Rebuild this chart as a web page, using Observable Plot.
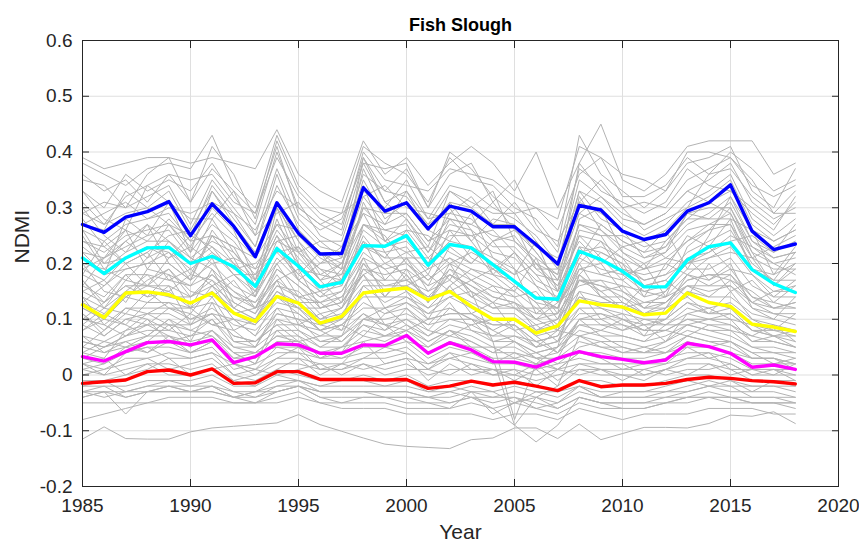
<!DOCTYPE html>
<html><head><meta charset="utf-8">
<script src="https://cdn.jsdelivr.net/npm/d3@7"></script>
<script src="https://cdn.jsdelivr.net/npm/@observablehq/plot@0.6"></script>
<style>body{margin:0;background:#fff} svg{display:block}</style>
</head><body><div id="chart"></div>
<script>
const years = [1985,1986,1987,1988,1989,1990,1991,1992,1993,1994,1995,1996,1997,1998,1999,2000,2001,2002,2003,2004,2005,2006,2007,2008,2009,2010,2011,2012,2013,2014,2015,2016,2017,2018];
const xTicks = [1985,1990,1995,2000,2005,2010,2015,2020];
const yTicks = [-0.2,-0.1,0,0.1,0.2,0.3,0.4,0.5,0.6];
const title = "Fish Slough";
const xLabel = "Year";
const yLabel = "NDMI";

// highlighted series
const blueSeries    = [0.270,0.256,0.283,0.293,0.311,0.250,0.307,0.267,0.212,0.309,0.254,0.217,0.218,0.336,0.294,0.309,0.262,0.303,0.294,0.266,0.266,0.234,0.199,0.304,0.296,0.258,0.243,0.252,0.294,0.309,0.341,0.258,0.225,0.235];
const cyanSeries    = [0.210,0.182,0.210,0.228,0.229,0.200,0.213,0.194,0.159,0.227,0.195,0.158,0.166,0.232,0.231,0.250,0.197,0.234,0.228,0.198,0.168,0.138,0.136,0.222,0.207,0.186,0.158,0.158,0.206,0.230,0.237,0.189,0.164,0.148];
const yellowSeries  = [0.126,0.103,0.147,0.149,0.144,0.129,0.147,0.111,0.096,0.141,0.129,0.093,0.105,0.147,0.152,0.156,0.135,0.150,0.123,0.100,0.100,0.075,0.088,0.133,0.126,0.122,0.108,0.111,0.147,0.130,0.123,0.091,0.086,0.078];
const magentaSeries = [0.033,0.025,0.042,0.058,0.060,0.054,0.063,0.022,0.033,0.056,0.054,0.039,0.039,0.054,0.053,0.071,0.039,0.058,0.045,0.024,0.023,0.014,0.030,0.042,0.033,0.028,0.022,0.027,0.057,0.051,0.039,0.014,0.018,0.010];
const redSeries     = [-0.015,-0.012,-0.009,0.006,0.009,0.000,0.011,-0.015,-0.014,0.006,0.006,-0.008,-0.008,-0.008,-0.009,-0.008,-0.024,-0.020,-0.011,-0.018,-0.013,-0.020,-0.028,-0.010,-0.021,-0.018,-0.018,-0.015,-0.008,-0.004,-0.006,-0.010,-0.012,-0.016];

// individual (gray) series
const g01 = [0.39,0.37,0.38,0.39,0.39,0.38,0.39,0.38,0.37,0.44,0.36,0.33,0.31,0.42,0.36,0.39,0.34,0.38,0.41,0.38,0.33,0.40,0.30,0.38,0.45,0.35,0.33,0.36,0.41,0.42,0.42,0.42,0.36,0.38];
const g02 = [0.38,0.36,0.34,0.37,0.38,0.37,0.43,0.34,0.30,0.43,0.34,0.30,0.29,0.41,0.38,0.36,0.31,0.39,0.35,0.34,0.30,0.28,0.23,0.43,0.36,0.33,0.30,0.33,0.38,0.39,0.41,0.33,0.30,0.37];
const g03 = [0.35,0.34,0.30,0.36,0.39,0.31,0.41,0.36,0.28,0.42,0.33,0.29,0.27,0.39,0.33,0.37,0.30,0.36,0.38,0.31,0.35,0.27,0.22,0.37,0.34,0.30,0.31,0.30,0.35,0.37,0.39,0.35,0.29,0.33];
const g04 = [0.33,0.30,0.36,0.33,0.35,0.33,0.38,0.32,0.27,0.40,0.30,0.27,0.25,0.38,0.31,0.33,0.28,0.34,0.33,0.30,0.28,0.25,0.20,0.35,0.32,0.29,0.27,0.29,0.33,0.35,0.38,0.31,0.28,0.30];
const g05 = [0.29,0.31,0.30,0.32,0.34,0.27,0.35,0.30,0.25,0.37,0.28,0.24,0.24,0.36,0.33,0.32,0.27,0.33,0.31,0.29,0.29,0.24,0.19,0.33,0.31,0.27,0.25,0.27,0.31,0.33,0.36,0.28,0.25,0.28];
const g06 = [0.31,0.27,0.29,0.30,0.33,0.26,0.33,0.28,0.23,0.34,0.27,0.23,0.22,0.35,0.28,0.31,0.26,0.31,0.30,0.27,0.27,0.22,0.17,0.31,0.29,0.26,0.24,0.26,0.30,0.32,0.35,0.27,0.24,0.26];
const g07 = [0.27,0.29,0.31,0.28,0.30,0.29,0.31,0.29,0.26,0.33,0.30,0.27,0.29,0.32,0.34,0.30,0.29,0.28,0.27,0.31,0.26,0.23,0.21,0.29,0.32,0.28,0.27,0.29,0.33,0.31,0.33,0.30,0.27,0.31];
const g08 = [0.26,0.24,0.27,0.28,0.29,0.24,0.29,0.25,0.21,0.30,0.24,0.20,0.21,0.32,0.27,0.29,0.24,0.28,0.27,0.25,0.24,0.21,0.18,0.29,0.27,0.24,0.22,0.23,0.27,0.29,0.32,0.24,0.21,0.22];
const g09 = [0.24,0.22,0.25,0.26,0.27,0.22,0.27,0.24,0.19,0.27,0.22,0.19,0.18,0.30,0.26,0.27,0.22,0.27,0.26,0.23,0.23,0.19,0.16,0.27,0.26,0.22,0.20,0.22,0.26,0.27,0.29,0.22,0.20,0.21];
const g10 = [0.22,0.21,0.23,0.25,0.26,0.21,0.24,0.22,0.18,0.26,0.21,0.17,0.18,0.27,0.24,0.26,0.21,0.25,0.25,0.22,0.21,0.17,0.15,0.25,0.24,0.21,0.19,0.20,0.24,0.26,0.27,0.21,0.19,0.19];
const g11 = [0.20,0.19,0.22,0.24,0.24,0.20,0.23,0.20,0.17,0.25,0.20,0.16,0.17,0.26,0.23,0.24,0.20,0.24,0.23,0.21,0.19,0.16,0.14,0.23,0.22,0.20,0.17,0.18,0.22,0.24,0.26,0.20,0.17,0.17];
const g12 = [0.28,0.23,0.20,0.22,0.25,0.26,0.22,0.19,0.20,0.24,0.25,0.21,0.19,0.23,0.21,0.26,0.25,0.22,0.20,0.24,0.26,0.22,0.17,0.24,0.20,0.23,0.24,0.21,0.20,0.22,0.24,0.25,0.22,0.24];
const g13 = [0.19,0.21,0.24,0.21,0.23,0.18,0.25,0.23,0.16,0.28,0.19,0.18,0.20,0.29,0.22,0.23,0.18,0.26,0.21,0.19,0.22,0.18,0.13,0.26,0.25,0.19,0.18,0.19,0.25,0.23,0.28,0.19,0.18,0.20];
const g14 = [0.23,0.20,0.21,0.23,0.21,0.23,0.20,0.21,0.19,0.22,0.23,0.19,0.16,0.25,0.20,0.22,0.23,0.20,0.22,0.20,0.18,0.20,0.16,0.22,0.23,0.21,0.16,0.17,0.21,0.22,0.25,0.23,0.20,0.18];
const g15 = [0.21,0.18,0.19,0.20,0.22,0.19,0.22,0.18,0.15,0.23,0.18,0.15,0.16,0.24,0.21,0.21,0.17,0.21,0.19,0.18,0.17,0.14,0.12,0.21,0.19,0.18,0.15,0.16,0.20,0.21,0.23,0.18,0.15,0.16];
const g16 = [0.18,0.16,0.19,0.20,0.20,0.17,0.20,0.16,0.14,0.21,0.17,0.14,0.15,0.22,0.19,0.20,0.17,0.20,0.18,0.16,0.15,0.12,0.12,0.19,0.18,0.17,0.14,0.15,0.19,0.19,0.21,0.16,0.14,0.14];
const g17 = [0.16,0.14,0.18,0.18,0.17,0.16,0.18,0.15,0.13,0.19,0.16,0.12,0.13,0.19,0.18,0.19,0.16,0.18,0.16,0.14,0.13,0.11,0.11,0.17,0.16,0.15,0.13,0.14,0.18,0.17,0.19,0.14,0.13,0.12];
const g18 = [0.14,0.12,0.17,0.16,0.16,0.14,0.16,0.13,0.11,0.16,0.15,0.11,0.12,0.17,0.17,0.17,0.15,0.17,0.14,0.12,0.12,0.09,0.10,0.15,0.14,0.14,0.12,0.12,0.16,0.15,0.16,0.12,0.11,0.10];
const g19 = [0.20,0.15,0.14,0.17,0.19,0.15,0.14,0.17,0.12,0.18,0.13,0.13,0.10,0.20,0.15,0.16,0.18,0.15,0.17,0.15,0.14,0.10,0.13,0.16,0.17,0.13,0.11,0.13,0.17,0.18,0.17,0.15,0.12,0.13];
const g20 = [0.13,0.11,0.15,0.15,0.14,0.13,0.15,0.12,0.10,0.15,0.13,0.10,0.11,0.16,0.16,0.16,0.14,0.15,0.13,0.11,0.11,0.08,0.09,0.14,0.13,0.13,0.11,0.11,0.15,0.14,0.14,0.11,0.10,0.09];
const g21 = [0.17,0.13,0.16,0.14,0.15,0.18,0.17,0.14,0.13,0.17,0.19,0.12,0.14,0.18,0.14,0.18,0.13,0.19,0.15,0.13,0.16,0.13,0.08,0.18,0.15,0.16,0.15,0.14,0.16,0.16,0.18,0.13,0.15,0.15];
const g22 = [0.15,0.17,0.13,0.19,0.18,0.12,0.19,0.12,0.15,0.20,0.14,0.15,0.12,0.21,0.19,0.15,0.12,0.16,0.19,0.17,0.14,0.15,0.10,0.20,0.14,0.12,0.16,0.17,0.14,0.20,0.15,0.17,0.13,0.16];
const g23 = [0.12,0.10,0.14,0.13,0.13,0.12,0.13,0.11,0.09,0.13,0.12,0.09,0.10,0.14,0.14,0.14,0.12,0.14,0.12,0.10,0.10,0.07,0.08,0.12,0.12,0.11,0.10,0.10,0.13,0.12,0.13,0.10,0.09,0.08];
const g24 = [0.11,0.08,0.12,0.12,0.12,0.10,0.12,0.09,0.08,0.12,0.11,0.08,0.09,0.12,0.12,0.13,0.11,0.12,0.10,0.09,0.09,0.06,0.07,0.11,0.11,0.10,0.09,0.09,0.12,0.11,0.11,0.08,0.08,0.07];
const g25 = [0.09,0.07,0.10,0.11,0.11,0.09,0.11,0.07,0.06,0.10,0.09,0.07,0.07,0.10,0.10,0.11,0.09,0.10,0.09,0.07,0.07,0.05,0.06,0.09,0.09,0.09,0.07,0.08,0.10,0.09,0.09,0.06,0.06,0.05];
const g26 = [0.07,0.06,0.08,0.09,0.09,0.08,0.10,0.05,0.05,0.08,0.08,0.06,0.06,0.09,0.08,0.10,0.07,0.09,0.08,0.06,0.06,0.04,0.05,0.08,0.07,0.07,0.06,0.07,0.09,0.08,0.07,0.05,0.05,0.04];
const g27 = [0.10,0.09,0.07,0.10,0.08,0.11,0.09,0.10,0.07,0.11,0.10,0.09,0.08,0.11,0.09,0.08,0.10,0.11,0.11,0.08,0.10,0.07,0.04,0.10,0.10,0.08,0.10,0.09,0.11,0.10,0.10,0.09,0.07,0.08];
const g28 = [0.06,0.05,0.07,0.08,0.08,0.07,0.08,0.04,0.04,0.07,0.07,0.05,0.05,0.08,0.07,0.09,0.06,0.08,0.07,0.05,0.05,0.03,0.04,0.07,0.06,0.06,0.05,0.06,0.08,0.07,0.06,0.04,0.04,0.03];
const g29 = [0.08,0.10,0.09,0.07,0.10,0.06,0.13,0.06,0.06,0.09,0.06,0.07,0.09,0.07,0.11,0.12,0.08,0.07,0.09,0.10,0.08,0.05,0.08,0.07,0.08,0.10,0.08,0.08,0.07,0.09,0.08,0.07,0.09,0.06];
const g30 = [0.05,0.04,0.06,0.07,0.07,0.06,0.07,0.03,0.03,0.06,0.06,0.04,0.04,0.07,0.06,0.08,0.05,0.07,0.06,0.04,0.04,0.02,0.03,0.06,0.05,0.05,0.04,0.05,0.07,0.06,0.05,0.03,0.03,0.02];
const g31 = [0.04,0.06,0.05,0.06,0.09,0.05,0.08,0.04,0.02,0.08,0.05,0.03,0.05,0.06,0.07,0.07,0.04,0.06,0.05,0.05,0.03,0.04,0.02,0.05,0.06,0.04,0.05,0.04,0.06,0.05,0.06,0.04,0.02,0.03];
const g32 = [0.03,0.02,0.04,0.05,0.05,0.04,0.05,0.01,0.02,0.04,0.04,0.03,0.03,0.04,0.04,0.05,0.02,0.04,0.03,0.02,0.02,0.01,0.02,0.03,0.02,0.02,0.02,0.03,0.04,0.04,0.03,0.01,0.01,0.01];
const g33 = [0.02,0.01,0.03,0.03,0.04,0.03,0.04,0.00,0.01,0.03,0.03,0.02,0.02,0.03,0.03,0.04,0.01,0.03,0.02,0.01,0.01,0.00,0.01,0.02,0.01,0.01,0.01,0.02,0.03,0.03,0.02,0.00,0.00,0.00];
const g34 = [0.01,0.00,0.01,0.02,0.02,0.01,0.02,-0.01,0.00,0.02,0.02,0.01,0.01,0.02,0.01,0.02,0.00,0.01,0.01,0.00,0.00,-0.01,0.00,0.01,0.00,0.00,0.00,0.01,0.02,0.02,0.01,-0.01,-0.01,-0.01];
const g35 = [0.00,0.01,0.02,0.03,0.01,0.02,0.03,0.00,-0.01,0.01,0.03,0.00,0.02,0.01,0.02,0.03,-0.01,0.02,0.00,0.01,-0.01,0.01,-0.02,0.01,0.01,-0.01,0.01,0.00,0.01,0.01,0.02,0.00,0.01,0.00];
const g36 = [0.02,0.03,0.00,0.01,0.03,0.00,0.01,0.02,0.01,0.00,0.01,0.02,0.00,0.02,0.00,0.01,0.01,0.00,0.02,0.00,0.01,-0.02,0.01,0.00,0.01,0.00,-0.01,0.01,0.00,0.02,0.00,0.01,0.00,0.02];
const g37 = [-0.02,-0.02,-0.02,-0.01,-0.01,-0.02,-0.01,-0.03,-0.03,-0.01,-0.01,-0.02,-0.02,-0.02,-0.02,-0.02,-0.03,-0.03,-0.02,-0.03,-0.02,-0.03,-0.04,-0.02,-0.03,-0.03,-0.03,-0.03,-0.02,-0.01,-0.02,-0.02,-0.02,-0.03];
const g38 = [-0.03,-0.03,-0.03,-0.02,-0.02,-0.03,-0.02,-0.04,-0.03,-0.02,-0.01,-0.03,-0.03,-0.03,-0.03,-0.03,-0.04,-0.04,-0.03,-0.04,-0.03,-0.04,-0.05,-0.03,-0.04,-0.04,-0.04,-0.04,-0.03,-0.02,-0.03,-0.03,-0.03,-0.04];
const g39 = [-0.04,-0.03,-0.04,-0.03,-0.03,-0.03,-0.03,-0.04,-0.04,-0.03,-0.02,-0.04,-0.04,-0.04,-0.04,-0.04,-0.05,-0.05,-0.04,-0.05,-0.04,-0.05,-0.06,-0.04,-0.05,-0.05,-0.05,-0.04,-0.04,-0.03,-0.04,-0.04,-0.04,-0.05];
const g40 = [-0.05,-0.05,-0.05,-0.05,-0.04,-0.04,-0.04,-0.05,-0.05,-0.04,-0.03,-0.05,-0.05,-0.05,-0.05,-0.06,-0.06,-0.06,-0.05,-0.06,-0.05,-0.06,-0.07,-0.05,-0.06,-0.06,-0.06,-0.05,-0.05,-0.04,-0.05,-0.05,-0.05,-0.06];
const g41 = [-0.04,-0.03,-0.07,-0.03,-0.02,-0.03,-0.02,-0.04,-0.05,-0.03,-0.02,-0.04,-0.05,-0.04,-0.04,-0.05,-0.05,-0.06,-0.03,-0.07,-0.05,-0.04,-0.06,-0.04,-0.05,-0.06,-0.06,-0.05,-0.04,-0.04,-0.04,-0.05,-0.05,-0.05];
const g42 = [-0.08,-0.07,-0.06,-0.05,-0.05,-0.05,-0.05,-0.05,-0.05,-0.05,-0.04,-0.05,-0.06,-0.06,-0.06,-0.07,-0.07,-0.07,-0.07,-0.08,-0.07,-0.07,-0.08,-0.06,-0.07,-0.08,-0.07,-0.07,-0.07,-0.06,-0.06,-0.06,-0.07,-0.07];
const g43 = [-0.115,-0.093,-0.114,-0.115,-0.115,-0.102,-0.095,-0.092,-0.089,-0.086,-0.071,-0.089,-0.101,-0.113,-0.124,-0.128,-0.130,-0.132,-0.116,-0.113,-0.095,-0.095,-0.114,-0.088,-0.116,-0.105,-0.094,-0.094,-0.095,-0.087,-0.072,-0.074,-0.066,-0.087];
const g44 = [-0.03,-0.04,-0.03,-0.03,-0.03,-0.03,-0.03,-0.04,-0.03,-0.03,-0.02,-0.03,-0.03,-0.03,-0.04,-0.04,-0.04,-0.05,-0.04,-0.06,-0.09,-0.12,-0.09,-0.04,-0.05,-0.05,-0.05,-0.05,-0.04,-0.04,-0.04,-0.05,-0.05,-0.05];
const g45 = [0.12,0.10,0.14,0.16,0.15,0.12,0.15,0.10,0.09,0.15,0.12,0.08,0.10,0.19,0.16,0.17,0.14,0.18,0.15,0.06,-0.08,0.02,0.05,0.18,0.14,0.12,0.09,0.10,0.15,0.13,0.12,0.08,0.07,0.06];
const h01 = [0.30,0.25,0.22,0.27,0.20,0.17,0.26,0.21,0.14,0.30,0.20,0.15,0.19,0.34,0.24,0.22,0.19,0.31,0.26,0.18,0.22,0.16,0.11,0.28,0.30,0.22,0.19,0.24,0.28,0.31,0.29,0.21,0.23,0.25];
const h02 = [0.16,0.21,0.26,0.19,0.24,0.21,0.19,0.15,0.12,0.20,0.23,0.17,0.13,0.27,0.25,0.20,0.16,0.23,0.20,0.24,0.19,0.11,0.14,0.25,0.21,0.17,0.20,0.14,0.23,0.26,0.30,0.22,0.16,0.19];
const h03 = [0.25,0.19,0.17,0.21,0.27,0.23,0.30,0.26,0.17,0.25,0.17,0.20,0.23,0.29,0.27,0.33,0.26,0.24,0.29,0.21,0.18,0.24,0.15,0.21,0.27,0.24,0.22,0.26,0.19,0.25,0.32,0.26,0.18,0.23];
const h04 = [0.10,0.13,0.18,0.14,0.18,0.16,0.21,0.13,0.11,0.19,0.16,0.13,0.15,0.21,0.14,0.19,0.13,0.20,0.14,0.16,0.12,0.12,0.09,0.19,0.20,0.15,0.12,0.15,0.21,0.17,0.20,0.12,0.10,0.14];
const h05 = [0.08,0.11,0.09,0.13,0.16,0.09,0.14,0.08,0.10,0.17,0.09,0.11,0.08,0.16,0.13,0.15,0.10,0.16,0.11,0.13,0.08,0.09,0.06,0.15,0.10,0.11,0.07,0.12,0.14,0.11,0.15,0.10,0.08,0.11];
const h06 = [0.05,0.08,0.11,0.10,0.06,0.07,0.10,0.06,0.05,0.12,0.08,0.05,0.07,0.11,0.08,0.12,0.09,0.13,0.08,0.07,0.09,0.05,0.06,0.12,0.09,0.08,0.09,0.06,0.11,0.12,0.10,0.06,0.07,0.05];
const h07 = [0.27,0.26,0.33,0.30,0.27,0.25,0.34,0.29,0.23,0.36,0.26,0.22,0.19,0.39,0.31,0.28,0.23,0.33,0.30,0.33,0.24,0.20,0.18,0.38,0.33,0.31,0.29,0.31,0.37,0.34,0.33,0.29,0.26,0.32];
const h08 = [0.36,0.33,0.35,0.31,0.36,0.35,0.36,0.31,0.29,0.39,0.32,0.28,0.26,0.40,0.35,0.34,0.33,0.37,0.36,0.35,0.32,0.30,0.26,0.36,0.39,0.32,0.32,0.34,0.39,0.36,0.40,0.37,0.33,0.35];
const h09 = [0.14,0.09,0.12,0.11,0.13,0.10,0.11,0.10,0.07,0.14,0.11,0.08,0.09,0.13,0.11,0.13,0.10,0.11,0.11,0.09,0.09,0.06,0.07,0.14,0.12,0.10,0.08,0.10,0.13,0.11,0.12,0.09,0.08,0.08];
const h10 = [0.03,0.05,0.06,0.04,0.07,0.04,0.06,0.03,0.04,0.05,0.05,0.04,0.03,0.05,0.05,0.06,0.03,0.05,0.04,0.03,0.03,0.02,0.01,0.04,0.04,0.03,0.03,0.04,0.05,0.05,0.04,0.02,0.02,0.02];
const h11 = [0.01,0.02,0.05,0.04,0.06,0.04,0.06,0.02,0.01,0.05,0.04,0.01,0.02,0.06,0.02,0.03,0.02,0.03,0.04,0.02,0.04,0.03,0.01,0.04,0.03,0.01,0.02,0.02,0.05,0.03,0.04,0.03,0.03,0.01];
const h12 = [-0.01,-0.01,0.00,0.02,0.00,0.00,0.01,-0.01,-0.02,0.01,0.00,-0.01,-0.01,0.00,-0.01,0.00,-0.02,-0.01,-0.01,-0.02,-0.01,-0.02,-0.03,-0.01,-0.01,-0.02,-0.02,-0.01,0.00,0.00,-0.01,-0.02,-0.02,-0.02];
const h13 = [0.19,0.17,0.21,0.23,0.22,0.17,0.25,0.20,0.15,0.24,0.22,0.17,0.20,0.27,0.26,0.25,0.20,0.28,0.24,0.19,0.16,0.13,0.12,0.20,0.24,0.18,0.19,0.21,0.24,0.27,0.27,0.19,0.17,0.22];
const h14 = [0.33,0.28,0.26,0.34,0.31,0.28,0.28,0.33,0.25,0.29,0.31,0.25,0.23,0.33,0.30,0.35,0.28,0.29,0.32,0.27,0.31,0.26,0.24,0.31,0.35,0.30,0.26,0.28,0.30,0.36,0.37,0.32,0.29,0.29];
const h15 = [0.22,0.18,0.28,0.25,0.31,0.22,0.33,0.27,0.22,0.31,0.22,0.24,0.21,0.37,0.29,0.31,0.27,0.30,0.24,0.28,0.27,0.19,0.19,0.33,0.28,0.26,0.21,0.23,0.29,0.28,0.31,0.24,0.22,0.27];
const h16 = [0.07,0.04,0.05,0.07,0.10,0.08,0.07,0.04,0.02,0.10,0.07,0.03,0.04,0.10,0.09,0.06,0.05,0.08,0.06,0.04,0.06,0.03,0.03,0.10,0.07,0.05,0.04,0.06,0.09,0.08,0.08,0.05,0.04,0.04];
const h17 = [0.17,0.12,0.15,0.18,0.14,0.14,0.17,0.12,0.10,0.16,0.14,0.10,0.12,0.18,0.20,0.18,0.13,0.18,0.16,0.13,0.12,0.10,0.08,0.17,0.16,0.14,0.11,0.12,0.18,0.16,0.16,0.13,0.11,0.11];
const h18 = [0.24,0.23,0.26,0.24,0.28,0.24,0.25,0.23,0.21,0.27,0.26,0.22,0.20,0.30,0.29,0.29,0.24,0.26,0.25,0.26,0.22,0.18,0.17,0.27,0.25,0.25,0.23,0.24,0.28,0.28,0.28,0.26,0.24,0.26];
const h19 = [-0.02,-0.01,-0.03,-0.02,-0.01,-0.01,0.00,-0.02,-0.02,0.00,-0.01,-0.02,-0.01,-0.01,-0.02,-0.01,-0.03,-0.02,-0.03,-0.03,-0.05,-0.03,-0.03,-0.02,-0.04,-0.03,-0.03,-0.02,-0.01,-0.02,-0.01,-0.03,-0.01,-0.02];
const h20 = [0.11,0.07,0.10,0.09,0.12,0.12,0.09,0.08,0.05,0.11,0.10,0.06,0.07,0.15,0.09,0.10,0.08,0.12,0.10,0.08,0.06,0.04,0.05,0.10,0.11,0.09,0.08,0.08,0.10,0.10,0.09,0.07,0.06,0.05];
const h21 = [0.06,0.05,0.07,0.09,0.07,0.05,0.08,0.05,0.04,0.07,0.06,0.04,0.05,0.09,0.07,0.08,0.06,0.08,0.05,0.03,-0.09,-0.04,-0.02,0.07,0.05,0.04,0.04,0.04,0.07,0.06,0.06,0.03,0.03,0.02];
const h22 = [0.29,0.27,0.32,0.34,0.36,0.31,0.37,0.33,0.29,0.41,0.29,0.26,0.28,0.38,0.37,0.38,0.30,0.40,0.37,0.32,0.29,0.30,0.28,0.41,0.39,0.36,0.35,0.33,0.40,0.40,0.39,0.34,0.32,0.34];
const h23 = [0.18,0.24,0.20,0.16,0.21,0.25,0.23,0.18,0.18,0.22,0.18,0.22,0.17,0.24,0.17,0.21,0.21,0.17,0.23,0.18,0.15,0.21,0.13,0.18,0.22,0.20,0.14,0.20,0.18,0.21,0.22,0.21,0.16,0.20];
const h24 = [0.13,0.16,0.20,0.22,0.17,0.19,0.16,0.18,0.14,0.23,0.17,0.14,0.17,0.23,0.22,0.17,0.19,0.21,0.17,0.19,0.17,0.14,0.12,0.23,0.18,0.19,0.17,0.18,0.20,0.23,0.19,0.18,0.14,0.17];
const h25 = [0.09,0.12,0.11,0.15,0.12,0.11,0.16,0.11,0.12,0.14,0.12,0.12,0.13,0.18,0.12,0.14,0.11,0.14,0.15,0.12,0.13,0.08,0.10,0.17,0.15,0.12,0.13,0.13,0.16,0.14,0.17,0.13,0.12,0.12];
const h26 = [0.04,0.03,0.08,0.11,0.09,0.09,0.11,0.07,0.06,0.09,0.09,0.08,0.06,0.10,0.12,0.09,0.07,0.10,0.10,0.06,0.07,0.06,0.04,0.09,0.08,0.07,0.06,0.09,0.09,0.10,0.11,0.08,0.07,0.07];
const h27 = [0.26,0.20,0.24,0.27,0.24,0.20,0.28,0.22,0.17,0.31,0.24,0.18,0.17,0.31,0.24,0.28,0.22,0.29,0.28,0.24,0.25,0.20,0.15,0.32,0.26,0.23,0.21,0.22,0.29,0.30,0.30,0.23,0.21,0.22];
const h28 = [0.15,0.13,0.16,0.16,0.19,0.14,0.18,0.14,0.12,0.17,0.14,0.13,0.14,0.20,0.17,0.21,0.15,0.19,0.17,0.14,0.13,0.10,0.11,0.17,0.17,0.16,0.12,0.13,0.17,0.18,0.18,0.14,0.12,0.13];
const h29 = [0.02,0.00,0.04,0.05,0.03,0.03,0.04,0.02,0.00,0.03,0.05,0.01,0.01,0.03,0.05,0.04,0.01,0.04,0.01,0.01,0.00,0.02,-0.01,0.02,0.02,0.02,0.00,0.01,0.03,0.04,0.01,0.01,0.01,-0.01];
const h30 = [-0.03,-0.02,-0.04,-0.03,-0.02,-0.02,-0.02,-0.03,-0.04,-0.02,-0.02,-0.03,-0.03,-0.03,-0.03,-0.03,-0.04,-0.03,-0.04,-0.04,-0.04,-0.06,-0.05,-0.02,-0.04,-0.04,-0.04,-0.03,-0.03,-0.02,-0.02,-0.04,-0.04,-0.04];
const grayLines = [g01,g02,g03,g04,g05,g06,g07,g08,g09,g10,g11,g12,g13,g14,g15,g16,g17,g18,g19,g20,g21,g22,g23,g24,g25,g26,g27,g28,g29,g30,g31,g32,g33,g34,g35,g36,g37,g38,g39,g40,g41,g42,g43,g44,g45,
  h01,h02,h03,h04,h05,h06,h07,h08,h09,h10,h11,h12,h13,h14,h15,h16,h17,h18,h19,h20,h21,h22,h23,h24,h25,h26,h27,h28,h29,h30];

const grayData = grayLines.flatMap((vals, i) => vals.map((v, j) => ({id: i, year: years[j], v})));
const toRows = vals => vals.map((v, j) => ({year: years[j], v}));

const axisColor = "#262626";
const fmtY = d => d === 0 ? "0" : d.toFixed(1);

const chart = Plot.plot({
  width: 859,
  height: 550,
  marginLeft: 82,
  marginRight: 21,
  marginTop: 40,
  marginBottom: 64,
  style: {fontFamily: "'Liberation Sans', Arial, sans-serif", fontSize: "19px", color: axisColor, background: "#fff"},
  x: {domain: [1985, 2020], axis: null},
  y: {domain: [-0.2, 0.6], axis: null},
  marks: [
    Plot.gridX(xTicks, {stroke: "#dfdfdf", strokeOpacity: 1}),
    Plot.gridY(yTicks, {stroke: "#dfdfdf", strokeOpacity: 1}),
    Plot.lineY(grayData, {x: "year", y: "v", z: "id", stroke: "#b3b3b3", strokeWidth: 1}),
    Plot.lineY(toRows(redSeries), {x: "year", y: "v", stroke: "#ff0000", strokeWidth: 3.4}),
    Plot.lineY(toRows(magentaSeries), {x: "year", y: "v", stroke: "#ff00ff", strokeWidth: 3.4}),
    Plot.lineY(toRows(yellowSeries), {x: "year", y: "v", stroke: "#ffff00", strokeWidth: 3.4}),
    Plot.lineY(toRows(cyanSeries), {x: "year", y: "v", stroke: "#00ffff", strokeWidth: 3.4}),
    Plot.lineY(toRows(blueSeries), {x: "year", y: "v", stroke: "#0000ff", strokeWidth: 3.4}),
    Plot.frame({stroke: axisColor}),
    Plot.axisX(xTicks, {anchor: "bottom", tickSize: -7, tickPadding: 19, tickFormat: d => String(d), label: null, stroke: axisColor, fill: axisColor}),
    Plot.axisX(xTicks, {anchor: "top", tickSize: -7, tickFormat: () => "", label: null, stroke: axisColor}),
    Plot.axisY(yTicks, {anchor: "left", tickSize: -7, tickPadding: 17, tickFormat: fmtY, label: null, stroke: axisColor, fill: axisColor}),
    Plot.axisY(yTicks, {anchor: "right", tickSize: -7, tickFormat: () => "", label: null, stroke: axisColor}),
    Plot.text([title], {frameAnchor: "top", dy: -22, fontSize: 18, fontWeight: "bold", fill: "#000"}),
    Plot.text([xLabel], {frameAnchor: "bottom", dy: 52, fontSize: 21, fill: axisColor}),
    Plot.text([yLabel], {frameAnchor: "left", dx: -60, rotate: -90, fontSize: 21, fill: axisColor})
  ]
});
document.getElementById("chart").appendChild(chart);
</script>
</body></html>
